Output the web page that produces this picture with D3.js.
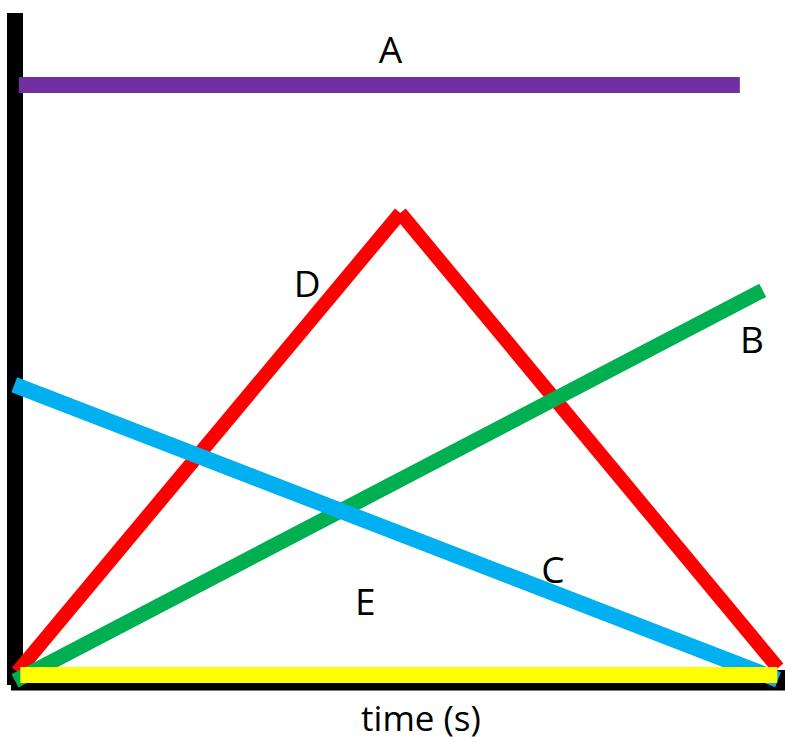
<!DOCTYPE html>
<html>
<head>
<meta charset="utf-8">
<script src="https://cdn.jsdelivr.net/npm/d3@7"></script>
<style>
  html, body { margin: 0; padding: 0; background: #fff; }
  svg text { font-family: "Open Sans", sans-serif; fill: #000; }
</style>
</head>
<body>
<div id="chart"></div>
<script>
// line data, in (time, value) units, 0..10 each way
const lineA = [[0.05, 10], [9.5, 10]];
const lineB = [[0, -0.1], [9.8, 6.52]];
const lineC = [[-0.01, 4.92], [10, -0.08]];
const lineD = [[0.03, 0.05], [5.05, 7.83], [10, 0.12]];
const lineE = [[0.07, 0], [9.99, 0]];

// label positions in the same units
const labelNames = ["A", "B", "C", "D", "E"];
const labelPos = [[4.92, 10.37], [9.66, 5.45], [7.05, 1.56], [3.83, 6.4], [4.59, 1.02]];

const xTitle = "time (s)";

let w = 785;
let h = 742;

const x = d3.scaleLinear().domain([0, 10]).range([15, 778]);
const y = d3.scaleLinear().domain([0, 10]).range([675, 85]);

let svg = d3.select("#chart")
  .append("svg")
  .attr("width", w)
  .attr("height", h);

// axes: thick black bars
svg.append("rect")
  .attr("x", 7).attr("y", 13)
  .attr("width", 16).attr("height", 672)
  .attr("fill", "#000");
svg.append("rect")
  .attr("x", 11).attr("y", 670)
  .attr("width", 774).attr("height", 20)
  .attr("fill", "#000");
svg.append("line")
  .attr("x1", 11).attr("x2", 785)
  .attr("y1", 690.5).attr("y2", 690.5)
  .attr("stroke", "#7f7f7f")
  .attr("stroke-width", 1);

// each line is drawn as separate butt-capped segments (the peak of D is notched)
function drawSegments(pts, color, width) {
  let segs = d3.pairs(pts);
  svg.append("g")
    .selectAll("line")
    .data(segs)
    .enter()
    .append("line")
    .attr("x1", d => x(d[0][0]))
    .attr("y1", d => y(d[0][1]))
    .attr("x2", d => x(d[1][0]))
    .attr("y2", d => y(d[1][1]))
    .attr("stroke", color)
    .attr("stroke-width", width)
    .attr("stroke-linecap", "butt");
}

drawSegments(lineD, "#ff0000", 14);
drawSegments(lineB, "#00b050", 15);
drawSegments(lineC, "#00b0f0", 16);
drawSegments(lineE, "#ffff00", 16);
drawSegments(lineA, "#7030a0", 16);

svg.append("g")
  .selectAll("text")
  .data(labelNames)
  .enter()
  .append("text")
  .attr("x", (d, i) => x(labelPos[i][0]))
  .attr("y", (d, i) => y(labelPos[i][1]))
  .attr("text-anchor", "middle")
  .attr("font-size", 37)
  .text(d => d);

svg.append("text")
  .attr("x", 421)
  .attr("y", 731)
  .attr("text-anchor", "middle")
  .attr("font-size", 35)
  .text(xTitle);
</script>
</body>
</html>
